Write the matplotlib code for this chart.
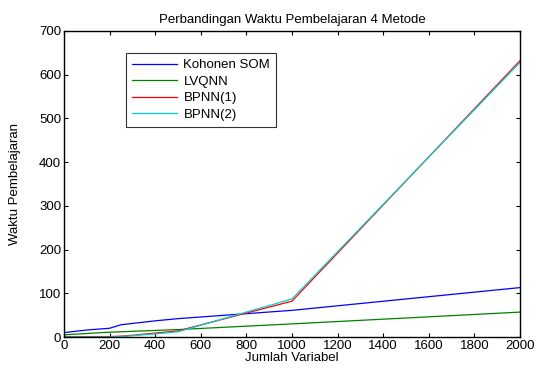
import numpy as np
import matplotlib
matplotlib.use("Agg")
import matplotlib.pyplot as plt

plt.rcParams['font.family'] = ['Liberation Sans', 'DejaVu Sans']

# --- data ---
x = [0, 100, 200, 250, 300, 400, 500, 1000, 2000]
kohonen = [10, 16, 20, 28, 31, 37, 42, 61, 113]
lvqnn = [5, 8, 11, 12, 13, 15, 17, 30, 57]
bpnn1 = [1, 1, 1, 2, 4, 9, 14, 82, 632]
bpnn2 = [0, 0, 0, 1, 3, 7, 12, 87, 628]

fs = 9.5
fig = plt.figure(figsize=(5.39, 3.69), dpi=100)
ax = fig.add_axes([0.1187, 0.0867, 0.846, 0.8293])

ax.plot(x, kohonen, color='#0000ff', lw=0.9, label='Kohonen SOM')
ax.plot(x, lvqnn, color='#008000', lw=0.9, label='LVQNN')
ax.plot(x, bpnn1, color='#ff0000', lw=0.9, label='BPNN(1)')
ax.plot(x, bpnn2, color='#00d0d0', lw=0.9, label='BPNN(2)')

ax.set_xlim(0, 2000)
ax.set_ylim(0, 700)
ax.set_xticks(np.arange(0, 2001, 200))
ax.set_yticks(np.arange(0, 701, 100))
ax.tick_params(direction='in', top=True, right=True, labelsize=fs, length=3, width=0.8, pad=2)
for s in ax.spines.values():
    s.set_linewidth(1.0)

ax.set_title('Perbandingan Waktu Pembelajaran 4 Metode', fontsize=fs, pad=6)
ax.set_xlabel('Jumlah Variabel', fontsize=fs, labelpad=0)
ax.set_ylabel('Waktu Pembelajaran', fontsize=fs, labelpad=13)

leg = ax.legend(loc='upper left', bbox_to_anchor=(0.136, 0.928), fontsize=fs,
                frameon=True, fancybox=False, edgecolor='black', borderpad=0.45,
                handlelength=3.4, handletextpad=0.5, labelspacing=0.33, borderaxespad=0)
leg.get_frame().set_linewidth(0.8)

fig.savefig('out.png', dpi=100)
